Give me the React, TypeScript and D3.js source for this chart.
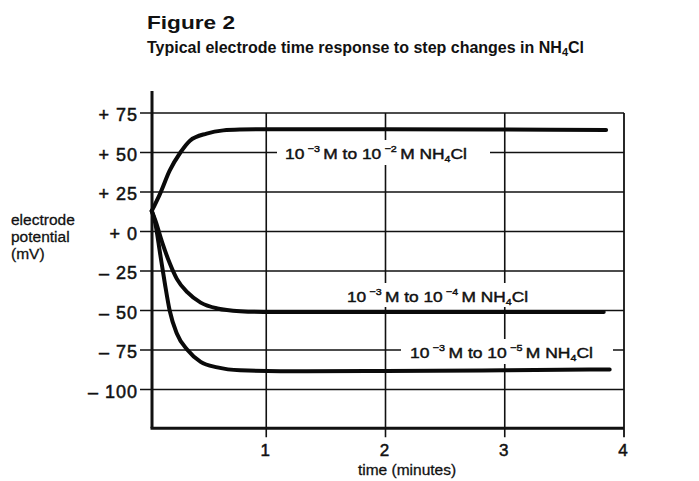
import React from "react";
import * as d3 from "d3";

const yTickValues = [75, 50, 25, 0, -25, -50, -75, -100];
const yTickLabels = ["+ 75", "+ 50", "+ 25", "+ 0", "– 25", "– 50", "– 75", "– 100"];
const xTickValues = [1, 2, 3, 4];
const xTickLabels = ["1", "2", "3", "4"];

const t1 = [0.04, 0.11, 0.19, 0.28, 0.36, 0.5, 0.64, 0.78, 1.0, 2.0, 3.0, 3.85];
const v1 = [13, 24, 38.5, 50, 57.5, 62, 64, 64.5, 64.7, 64.7, 64.5, 64.2];

const t2 = [0.04, 0.07, 0.13, 0.19, 0.25, 0.34, 0.45, 0.59, 0.78, 1.06, 2.0, 3.0, 3.83];
const v2 = [13, 7, -7.5, -20, -30, -38.5, -45, -48.7, -50.4, -51, -51, -51, -51];

const t3 = [0.04, 0.07, 0.11, 0.15, 0.19, 0.25, 0.34, 0.45, 0.59, 0.78, 1.34, 2.0, 3.0, 3.88];
const v3 = [13, 5, -14, -33, -50, -64.5, -75, -82.5, -86, -87.8, -88.5, -88.3, -87.8, -87.3];

const labelSup1 = ["−3", "−2"];
const labelSup2 = ["−3", "−4"];
const labelSup3 = ["−3", "−5"];

const W = 699;
const H = 481;

export default function App() {
  const x = d3.scaleLinear().domain([0, 4]).range([147, 624]);
  const y = d3.scaleLinear().domain([-100, 75]).range([389.5, 113]);
  const axisX = x(0.042);
  const axisTop = y(89);
  const bottomY = y(-124.5);
  const rightX = x(4);

  const line = d3
    .line<[number, number]>()
    .x((d) => x(d[0]))
    .y((d) => y(d[1]))
    .curve(d3.curveMonotoneX);

  const series = [
    t1.map((t, i) => [t, v1[i]] as [number, number]),
    t2.map((t, i) => [t, v2[i]] as [number, number]),
    t3.map((t, i) => [t, v3[i]] as [number, number]),
  ];

  const font = "'Liberation Sans', Arial, Helvetica, sans-serif";
  const ink = "#111";

  const label = (sups: string[], tx: number, ty: number, len: number) => (
    <text
      x={tx}
      y={ty}
      fontSize={15.5}
      fontFamily={font}
      fill={ink}
      stroke={ink}
      strokeWidth={0.45}
      textLength={len}
      lengthAdjust="spacingAndGlyphs"
    >
      <tspan>10</tspan>
      <tspan fontSize={9.5} dy={-7} dx={3}>{sups[0]}</tspan>
      <tspan dy={7} dx={3}>M to 10</tspan>
      <tspan fontSize={9.5} dy={-7} dx={3}>{sups[1]}</tspan>
      <tspan dy={7} dx={3}>M NH</tspan>
      <tspan fontSize={9.5} dy={3}>4</tspan>
      <tspan dy={-3}>Cl</tspan>
    </text>
  );

  return (
    <svg
      width={W}
      height={H}
      style={{ position: "absolute", left: 0, top: 0, background: "#fff" }}
    >
      <rect x={0} y={0} width={W} height={H} fill="#fff" />
      {/* titles */}
      <text
        x={147}
        y={29}
        fontSize={19}
        fontWeight={700}
        fontFamily={font}
        fill={ink}
        textLength={88}
        lengthAdjust="spacingAndGlyphs"
      >
        Figure 2
      </text>
      <text
        x={147}
        y={52.5}
        fontSize={16}
        fontWeight={700}
        fontFamily={font}
        fill={ink}
        textLength={437}
        lengthAdjust="spacingAndGlyphs"
      >
        Typical electrode time response to step changes in NH
        <tspan fontSize={11} dy={3}>4</tspan>
        <tspan dy={-3}>Cl</tspan>
      </text>

      {/* horizontal gridlines */}
      {yTickValues.map((v) => (
        <line key={"h" + v} x1={axisX - 12} x2={rightX} y1={y(v)} y2={y(v)} stroke={ink} strokeWidth={1.6} />
      ))}
      {/* vertical gridlines */}
      {xTickValues.map((v) => (
        <line key={"v" + v} x1={x(v)} x2={x(v)} y1={y(75)} y2={bottomY + 9} stroke={ink} strokeWidth={v === 4 ? 1.8 : 1.6} />
      ))}

      {/* axes */}
      <line x1={axisX} x2={axisX} y1={axisTop} y2={bottomY} stroke={ink} strokeWidth={3} />
      <line x1={axisX - 1.5} x2={rightX} y1={bottomY} y2={bottomY} stroke={ink} strokeWidth={3} />

      {/* label boxes */}
      <rect x={277} y={140} width={213} height={25} fill="#fff" />
      <rect x={340} y={283} width={195} height={24} fill="#fff" />
      <rect x={401} y={339} width={212} height={25} fill="#fff" />

      {label(labelSup1, 285, 159, 182)}
      {label(labelSup2, 347, 302, 181)}
      {label(labelSup3, 410, 358, 183)}

      {/* curves */}
      {series.map((s, i) => (
        <path key={"c" + i} d={line(s) || ""} fill="none" stroke="#0a0a0a" strokeWidth={4} strokeLinecap="round" />
      ))}

      {/* y tick labels */}
      {yTickValues.map((v, i) => (
        <text
          key={"yl" + v}
          x={138}
          y={y(v) + 8}
          textAnchor="end"
          fontSize={18}
          letterSpacing={1}
          fontFamily={font}
          fill={ink}
          stroke={ink}
          strokeWidth={0.5}
        >
          {yTickLabels[i]}
        </text>
      ))}
      {/* x tick labels */}
      {xTickValues.map((v, i) => (
        <text
          key={"xl" + v}
          x={x(v) - 1}
          y={456}
          textAnchor="middle"
          fontSize={17}
          fontFamily={font}
          fill={ink}
          stroke={ink}
          strokeWidth={0.5}
        >
          {xTickLabels[i]}
        </text>
      ))}
      <text x={407} y={475} textAnchor="middle" fontSize={15.5} fontFamily={font} fill={ink} stroke={ink} strokeWidth={0.3}>
        time (minutes)
      </text>

      {/* y axis title */}
      <text x={11} y={225} fontSize={15.5} fontFamily={font} fill={ink} stroke={ink} strokeWidth={0.3}>electrode</text>
      <text x={11} y={242} fontSize={15.5} fontFamily={font} fill={ink} stroke={ink} strokeWidth={0.3}>potential</text>
      <text x={11} y={259} fontSize={15.5} fontFamily={font} fill={ink} stroke={ink} strokeWidth={0.3}>(mV)</text>
    </svg>
  );
}
